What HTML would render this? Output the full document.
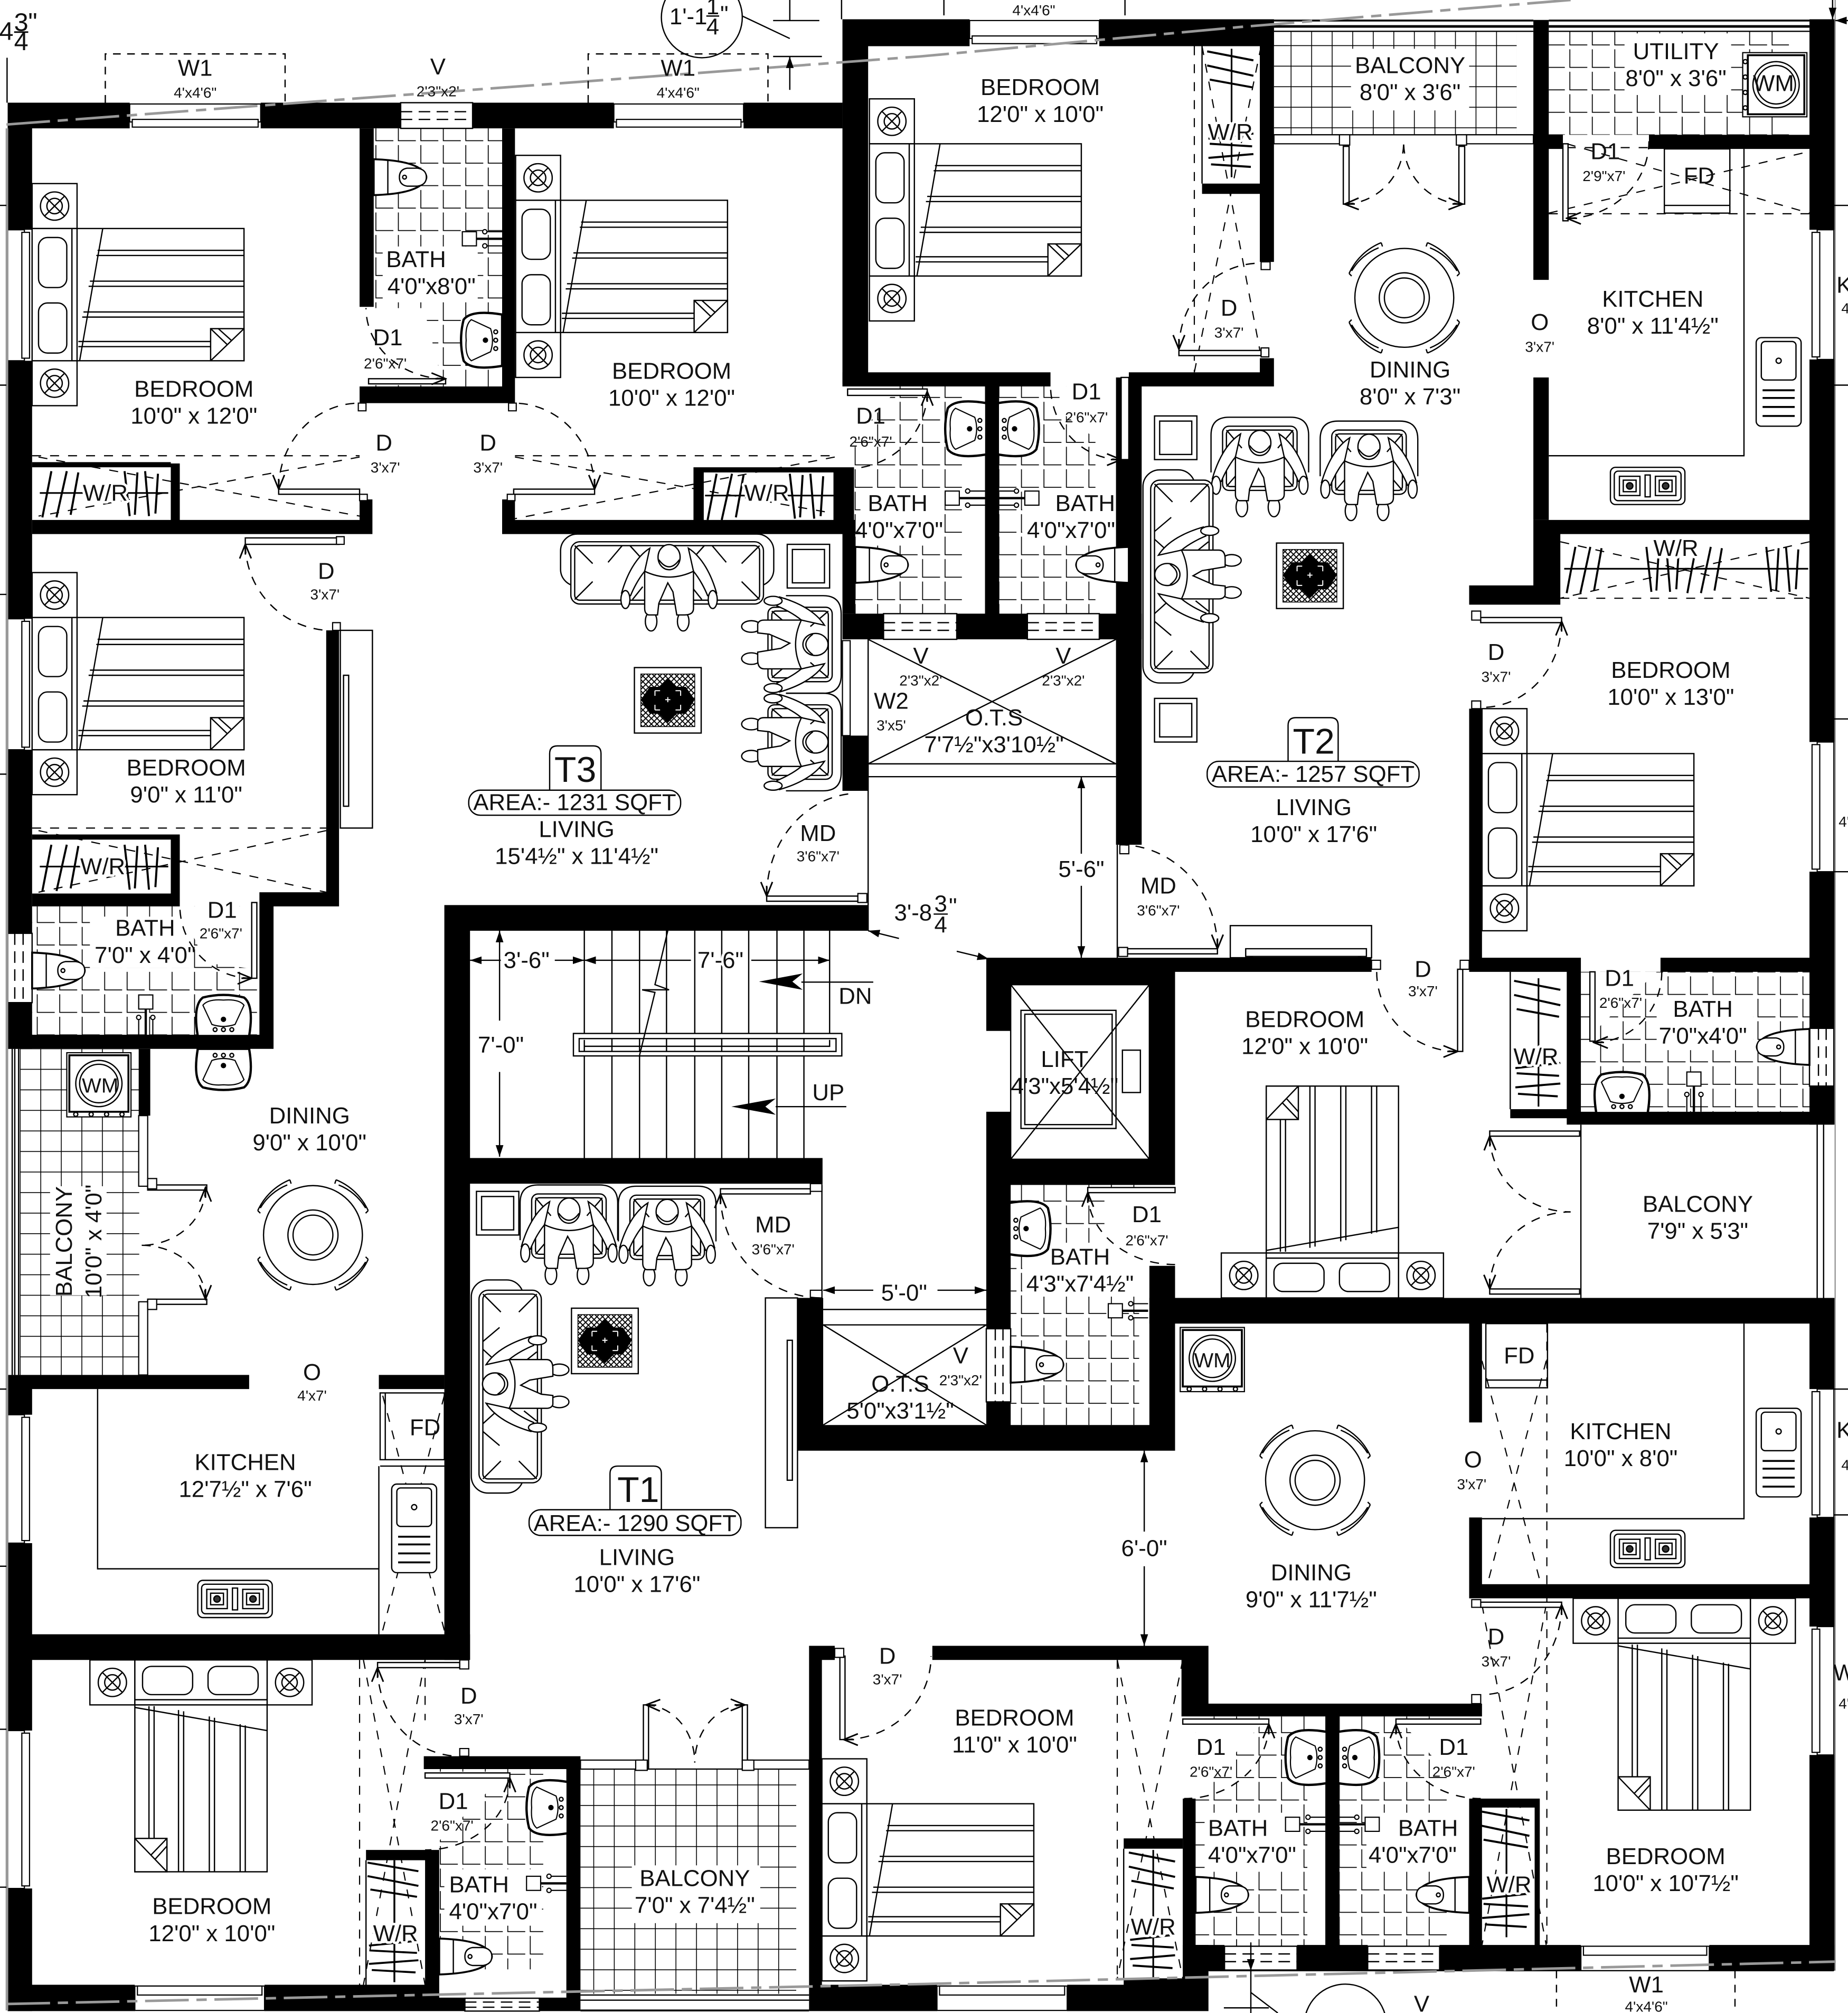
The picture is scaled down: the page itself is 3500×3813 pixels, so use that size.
<!DOCTYPE html>
<html><head><meta charset="utf-8"><title>Floor plan</title>
<style>
html,body{margin:0;padding:0;background:#fff}
svg{display:block}
text{font-family:"Liberation Sans",sans-serif;fill:#111;text-anchor:middle;stroke:none}
.l{font-size:18px}
.s{font-size:11.5px}
.h{paint-order:stroke;stroke:#fff;stroke-width:4px;stroke-linejoin:round}
.d{stroke-dasharray:7 7;fill:none}
.a{stroke-dasharray:7 6;fill:none;marker-start:url(#oa)}
.leaf{fill:#fff;stroke:#000;stroke-width:1}
.win{fill:#fff;stroke:#000;stroke-width:.9}
</style></head><body>
<svg xmlns="http://www.w3.org/2000/svg" width="3500" height="3813" viewBox="0 0 1439 1568" preserveAspectRatio="none">
<defs>
<marker id="oa" markerWidth="14" markerHeight="12" refX="1" refY="6" orient="auto" markerUnits="userSpaceOnUse"><path d="M12 1.500L1 6L12 10.500M1 6L9 6" fill="none" stroke="#000" stroke-width="1.200"/></marker>
<marker id="fa" markerWidth="10" markerHeight="8" refX="9" refY="4" orient="auto-start-reverse" markerUnits="userSpaceOnUse"><path d="M0 1L9 4L0 7Z" fill="#000"/></marker>
<pattern id="tile" width="17.5" height="17.5" patternUnits="userSpaceOnUse"><path d="M0.400 3V17.100H14" stroke="#000" stroke-width=".7" fill="none"/></pattern>
<pattern id="grid" width="16" height="16" patternUnits="userSpaceOnUse"><path d="M0 .3H16M.3 0V16" stroke="#000" stroke-width=".7" fill="none"/></pattern>
<pattern id="hatch" width="4.4" height="4.4" patternUnits="userSpaceOnUse"><path d="M0 0L4.4 4.4M4.4 0L0 4.4" stroke="#000" stroke-width=".8"/></pattern>
<g id="ns"><rect width="35" height="35" fill="#fff"/><circle cx="17.5" cy="17.5" r="11"/><circle cx="17.5" cy="17.5" r="6"/><path d="M10 10L25 25M25 10L10 25"/></g>
<g id="bed" stroke="#000" fill="none" stroke-width="1">
<use href="#ns"/><use href="#ns" y="138"/>
<rect y="35" width="165" height="103" fill="#fff"/>
<path d="M31 35V138M35 35V138"/>
<rect x="5" y="42" width="22" height="39" rx="7"/><rect x="5" y="93" width="22" height="39" rx="7"/>
<path d="M55 35L37 138M51 52H165M50 56H165M45 76H165M44 80H165M40 100H165M39 104H165M36 123H139M36 127H139"/>
<rect x="139" y="113" width="26" height="25" fill="#fff"/><path d="M139 138L165 113M139 113L152 125.500M145 113L155 122"/>
</g>
<g id="man" stroke="#000" fill="#fff" stroke-width="1">
<ellipse cx="-14" cy="50" rx="4.500" ry="7.500"/><ellipse cx="11" cy="50" rx="4.500" ry="7.500"/>
<path d="M-15 -7C-26 0 -33 14 -37 28L-30 30C-28 25 -24 17 -19 11Z"/><path d="M15 -7C26 0 33 14 37 28L30 30C28 25 24 17 19 11Z"/>
<ellipse cx="-34" cy="33" rx="3.500" ry="7"/><ellipse cx="34" cy="33" rx="3.500" ry="7"/>
<path d="M-19 11Q0 20 19 11L19 40Q19 45 12 45H6L3 27L-1 20L-8 36L-9 45H-16Q-19 44 -19 40Z"/>
<ellipse cx="0" cy="0" rx="8.600" ry="9.800"/><path d="M-8 2Q0 13 8 2" fill="none"/>
</g>
<g id="chair" stroke="#000" fill="none" stroke-width="1">
<path d="M-38 23V-6Q-38 -20 -24 -20H24Q38 -20 38 -6V23"/>
<rect x="-29" y="-13" width="58" height="50" rx="5"/><rect x="-26" y="-10" width="52" height="44" rx="3"/>
<path d="M-26 -10L-14 4M26 -10L14 4M-26 34L-14 20M26 34L14 20"/>
<use href="#man"/>
</g>
<g id="sofa" stroke="#000" fill="#fff" stroke-width="1">
<rect x="-83" y="-27" width="166" height="40.500" rx="13"/>
<rect x="-75" y="-21" width="150" height="48.500" rx="7"/>
<rect x="-72" y="-18" width="144" height="42.500" rx="4"/>
<path d="M-72 -18L-58 -4M72 -18L58 -4M-72 24L-58 10M72 24L58 10M-29 -18L-19 -7M29 -18L19 -7M-27 24L-19 14M27 24L19 14M-40 -18V-18M-46 -5L-35 -18M46 -5L35 -18"/>
</g>
<g id="sq" stroke="#000" fill="#fff" stroke-width="1"><rect width="33" height="34"/><rect x="4" y="4" width="25" height="26"/></g>
<g id="rug"><rect width="52" height="51" fill="#fff" stroke="#000"/><rect x="5" y="5" width="42" height="41" fill="url(#hatch)" stroke="#000" stroke-width=".6"/><path d="M26 8L33 15H40L47 25L40 36H33L26 43L19 36H12L5 25L12 15H19Z" fill="#000"/><path d="M16 18H20M16 18V22M36 18H32M36 18V22M16 33H20M16 33V29M36 33H32M36 33V29M24 25H28M26 23V27" stroke="#fff" fill="none" stroke-width=".8"/></g>
<g id="arc" fill="none" stroke="#000"><path d="M-43 -19A47 47 0 0 1 -18 -43M-41 -21A43 43 0 0 1 -20 -39"/><path d="M-43 -19L-41 -17M-18 -43L-17 -40"/></g>
<g id="din" stroke="#000" fill="#fff" stroke-width="1"><use href="#arc"/><use href="#arc" transform="scale(-1,1)"/><use href="#arc" transform="scale(1,-1)"/><use href="#arc" transform="scale(-1,-1)"/><circle r="38.5"/><circle r="19.5"/><circle r="15.5"/></g>
<g id="wc" stroke="#000" fill="#fff" stroke-width="1"><path d="M0 -14Q30 -13 38 -5Q44 0 38 5Q30 13 0 14Z" stroke-width="1.500"/><path d="M11 -13V13"/><path d="M26 -7H34Q41 -6 41 0Q41 6 34 7H26Q20 6 20 0Q20 -6 26 -7Z"/><circle cx="24" cy="0" r="1.500"/></g>
<g id="bas" stroke="#000" fill="#fff"><path d="M16 -20Q-8 -24 -14 -16Q-18 0 -14 16Q-8 24 16 20Z" stroke-width="1.800"/><path d="M7 -9L-8 -16Q-13 -12 -12 0Q-13 12 -8 16L7 9Q10 0 7 -9Z" stroke-width=".9"/><circle cx="3" cy="0" r="1.600" fill="#000"/><circle cx="11" cy="-6.500" r="1.500"/><circle cx="11" cy="0" r="1.500"/><circle cx="11" cy="6.500" r="1.500"/></g>
<g id="sink" stroke="#000" fill="#fff"><rect width="35" height="69" rx="4"/><rect x="4" y="3" width="27" height="30" rx="3"/><circle cx="17.5" cy="18" r="2" fill="none"/><path d="M5 41H30M5 47H30M5 54H30M5 61H30" stroke-width="1.500"/></g>
<g id="stove" stroke="#000" fill="#fff"><rect width="58" height="29" rx="4"/><rect x="3" y="3" width="52" height="23" rx="3"/><rect x="7" y="7" width="16" height="15"/><rect x="35" y="7" width="16" height="15"/><rect x="27" y="6" width="4" height="17"/><rect x="10" y="10" width="10" height="9"/><rect x="38" y="10" width="10" height="9"/><circle cx="15" cy="14.5" r="2.500" fill="#333"/><circle cx="43" cy="14.5" r="2.500" fill="#333"/></g>
<g id="wm" stroke="#000" fill="#fff"><rect width="50" height="50" stroke-width=".9"/><rect x="2" y="2" width="46" height="44" stroke-width="1.500"/><circle cx="25" cy="24" r="18"/><circle cx="25" cy="24" r="15"/><circle cx="7" cy="48" r="1.600"/><circle cx="19" cy="48" r="1.600"/><circle cx="31" cy="48" r="1.600"/><circle cx="43" cy="48" r="1.600"/></g>
<g id="wr" stroke="#000" fill="none" stroke-width="1.600"><path d="M0 19H100" stroke-width="1.300"/><path d="M2 38L9 2M13 38L21 2M24 36L30 3M66 2L70 37M74 36L76 3M82 2L85 37M90 35L92 4"/></g>
<g id="tap" stroke="#000" fill="#fff" stroke-width=".9"><rect x="0" y="-5.500" width="11" height="11"/><path d="M11 0H31" stroke-width="1.800"/><path d="M19 -5.500H31M19 5.500H31"/><circle cx="17.500" cy="-5.500" r="1.700"/><circle cx="17.500" cy="5.500" r="1.700"/></g>
</defs>
<rect width="1439" height="1568" fill="#fff"/>

<!-- tiles: each translated so the pattern lines up with the room -->
<g>
<rect transform="translate(309.800,110)" x="-18.800" y="-10" width="100" height="201" fill="url(#tile)"/>
<rect transform="translate(683,310)" x="-18" y="-9" width="84" height="177" fill="url(#tile)"/>
<rect transform="translate(795,310)" x="-17" y="-9" width="75" height="177" fill="url(#tile)"/>
<rect transform="translate(28.600,719)" x="-3.600" y="-13" width="177" height="100" fill="url(#tile)"/>
<rect transform="translate(1246,775)" x="-15" y="-18" width="178" height="109" fill="url(#tile)"/>
<rect transform="translate(795,936)" x="-8" y="-13" width="100" height="187" fill="url(#tile)"/>
<rect transform="translate(360,1400)" x="-18" y="-22" width="81" height="156" fill="url(#tile)"/>
<rect transform="translate(945,1350)" x="-14" y="-13" width="87" height="185" fill="url(#tile)"/>
<rect transform="translate(1060,1350)" x="-17" y="-13" width="84" height="185" fill="url(#tile)"/>
<rect transform="translate(1222,35.400)" x="-16" y="-10.900" width="187" height="80.500" fill="url(#tile)"/>
<rect transform="translate(1005,35.200)" x="-13" y="-10.700" width="189" height="80.500" fill="url(#grid)"/>
<rect transform="translate(15.400,832.600)" x="0" y="-15.600" width="93" height="254" fill="url(#grid)"/>
<rect transform="translate(462,1502)" x="-10" y="-124" width="168" height="175" fill="url(#grid)"/>
<!-- white door clearances and label pads -->
<path d="M281 240H330L345 300H281ZM660 301H700L660 350ZM825 301H870V355L825 320ZM140 706H200V755L160 750ZM1240 757H1290L1240 805ZM860 925H895V985H860ZM332 1380H395L335 1441ZM931 1340H985L931 1400ZM1090 1340H1144V1400Z" fill="#fff"/>
<g fill="#fff">
<rect x="1052" y="38" width="92" height="48"/><rect x="1265" y="26" width="83" height="48"/>
<rect x="492" y="1453" width="100" height="45"/><rect x="39" y="924" width="44" height="85"/>
<rect x="298" y="192" width="74" height="42"/><rect x="670" y="380" width="65" height="45"/><rect x="796" y="380" width="79" height="45"/>
<rect x="70" y="714" width="81" height="40"/><rect x="1290" y="776" width="75" height="42"/><rect x="796" y="968" width="92" height="42"/>
<rect x="346" y="1456" width="76" height="44"/><rect x="938" y="1412" width="74" height="44"/><rect x="1064" y="1412" width="74" height="44"/>
</g>
</g>

<!-- thin lines -->
<g stroke="#000" fill="none" stroke-width="1">
<path d="M676 498V725M870 658V746"/>
<path d="M676 498L869 595M869 498L676 595M676 595H869M676 605H869"/>
<path d="M641 1020H768M641 1032H768M641 1032L768 1110M768 1032L641 1110"/>
<path d="M640 923V1011"/>
<!-- balcony edges -->
<path d="M992 105H1194"/><path d="M992 16H1194M1206 16H1409" stroke-width="1.500"/><path d="M992 20.600H1194M1206 20.600H1409" stroke-width="2"/><path d="M992 24.400H1194M1206 24.400H1409"/>
<path d="M9.500 817V1071M11.500 817V1071M14.500 817V1071"/>
<path d="M452 1378H630M452 1554H630M452 1558H630" /><path d="M452 1566H630" stroke-width="1.500"/>
<!-- kitchen counters -->
<path d="M1358 116V355H1206M76 1082V1222H295M295 1142V1273M1358 1031V1183H1154M1231 876V1011M1415 876V1011M1420 876V1011"/>
<!-- lift -->
<path d="M787 767H895V903H787ZM787 767L895 903M895 767L787 903"/>
<rect x="795" y="787" width="74" height="92"/><rect x="798" y="790" width="68" height="86"/><rect x="874" y="818" width="14" height="33"/>
<!-- stairs -->
<path d="M455 725V805M476.500 725V805M498 725V805M519 725V805M541 725V805M562 725V805M583 725V805M605 725V805M626 725V805M646 725V805"/>
<path d="M455 822V902M476.500 822V902M498 822V902M519 822V902M541 822V902M562 822V902M583 822V902M605 822V902M626 822V902"/>
<rect x="446.500" y="805" width="209" height="17.500" fill="#fff"/><rect x="451" y="809" width="200" height="10"/>
<path d="M455 810V819M646 810V815H455M476.500 809V819M498 809V819M519 809V819M541 809V819M562 809V819M583 809V819M605 809V819M626 809V819"/>
<path d="M520 725L510 767L521 771H500L510 773L498 822"/>
<!-- dims -->
<path d="M389 725V795M389 835V901" marker-start="url(#fa)" marker-end="url(#fa)"/>
<path d="M366 748H390" marker-start="url(#fa)"/>
<path d="M432 748H455" marker-end="url(#fa)"/><path d="M480 748H455" marker-end="url(#fa)"/>
<path d="M480 748H538M585 748H646" marker-end="url(#fa)"/>
<path d="M842 605V665M842 690V746" marker-start="url(#fa)" marker-end="url(#fa)"/>
<path d="M676 725L700 731M745 741L770 747" marker-start="url(#fa)" marker-end="url(#fa)"/>
<path d="M891 1130V1193M891 1220V1282" marker-start="url(#fa)" marker-end="url(#fa)"/>
<path d="M641 1005H680M730 1005H768" marker-start="url(#fa)" marker-end="url(#fa)"/>
<path d="M624 765H680M604 862H659"/>
<!-- TV units -->
<rect x="265" y="491" width="25" height="154"/><rect x="267.500" y="526" width="4" height="102"/>
<rect x="596" y="1011" width="25" height="179"/><rect x="613" y="1044" width="4" height="109"/>
<rect x="958" y="721" width="110" height="25"/><path d="M970 739H1064V745H970ZM973 745L978 747M1060 745L1055 747"/>
<!-- FD boxes -->
<rect x="1296" y="116" width="51" height="50"/><path d="M1296 160H1347"/>
<rect x="296" y="1085" width="50" height="52"/><path d="M300 1085V1137M296 1142H346"/>
<rect x="1157" y="1031" width="48" height="50"/><path d="M1157 1075H1205"/>
<!-- WR outlines -->
<path d="M1176 757V864M875 1440V1541M285 1449V1546M936 36V143"/>
<path d="M941 1535H1428"/>
</g>

<!-- closet dashed swings -->
<g stroke="#000" stroke-width=".9" class="d" fill="none">
<path d="M25 355H280M30 356L280 402M280 356L30 402"/>
<path d="M401 355H650M401 356L650 400M650 356L401 404"/>
<path d="M25 645H254M30 647L254 695M254 647L30 695"/>
<path d="M930 36V290M936 36L982 278M982 36L930 290"/>
<path d="M1206 166.500H1409M1206 115H1284M1206 166L1409 118M1220 112L1409 166"/>
<path d="M1215 422L1409 466M1409 422L1215 466M1215 466H1409"/>
<path d="M280 1293V1546M331 1293V1340M283 1293L331 1546M331 1293L283 1546"/>
<path d="M298 1270L346 1087M346 1270L298 1087"/>
<path d="M870 1293V1541M870 1293L921 1541M921 1293L870 1541"/>
<path d="M1204.500 1031V1515M1154 1250L1204 1515M1204 1250L1154 1515M1154 1060L1204 1250M1204 1060L1154 1250"/>
</g>

<!-- walls -->
<g fill="#000">
<path d="M6 80H101V100H6ZM203 80H312V100H203ZM368 80H478V100H368ZM579 80H656V100H579Z"/>
<path d="M656 15H755V36H656ZM856 15H992V36H856ZM656 15H676V299H656Z"/>
<path d="M6 80H25V179H6ZM6 281H25V482H6ZM6 584H25V727H6ZM6 781H25V817H6Z"/>
<path d="M280 100H291V239H280ZM391 100H401V314H391ZM280 301H401V314H280Z"/>
<path d="M25 405H290V416H25ZM133 361H140V405H133ZM280 389H290V405H280ZM25 360H133V364H25Z"/>
<path d="M391 405H656V416H391ZM391 389H401V405H391ZM540 364H548V405H540ZM540 364H656V368H540ZM649 364H665V405H649ZM656 405H666V478H656Z"/>
<path d="M254 491H264V705H254ZM202 695H264V706H202ZM202 695H213V817H202ZM6 806H213V817H6Z"/>
<path d="M133 650H140V705H133ZM25 696H140V706H25ZM25 650H133V654H25Z"/>
<path d="M656 573H676V616H656ZM656 478H688V498H656ZM745 478H800V498H745ZM856 478H889V498H856ZM767 301H778V478H767Z"/>
<path d="M656 290H818V301H656ZM879 290H992V301H879ZM981 279H992V301H981ZM981 15H992V204H981ZM936 143H992V151H936ZM869 294H889V658H869Z"/>
<path d="M346 705H676V725H346ZM346 705H366V1293H346ZM366 902H640.500V922H366Z"/>
<path d="M768 746H915V767H768ZM768 746H787V803H768ZM768 866H787V1035H768ZM895 746H915V923H895ZM768 903H915V923H768ZM895 986H915V1130H895ZM768 1092H787V1130H768ZM622 1110H915V1130H622ZM621 1011H641V1130H621Z"/>
<path d="M108 817H117V869H108Z"/>
<path d="M6 1071H194V1082H6ZM295 1071H346V1082H295ZM6 1071H25V1102H6ZM6 1202H25V1348H6ZM6 1471H25V1566.500H6ZM6 1273H366V1293H6Z"/>
<path d="M6 1546H105V1566.500H6ZM206 1546H342V1566.500H206ZM342 1556H362V1566.500H342ZM420 1556H452V1566.500H420ZM441 1368H452V1566.500H441ZM330 1368H452V1378H330ZM331 1441H342V1556H331ZM285 1441H342V1449H285Z"/>
<path d="M630 1282H640V1566.500H630ZM630 1546H729.600V1566.500H630ZM831 1546H941V1566.500H831ZM630 1282H650V1293H630ZM726 1282H941V1293H726ZM920 1282H941V1337H920ZM920 1327H1154V1337H920ZM1032 1337H1043V1516H1032ZM921 1401H931V1541H921ZM921 1515H941V1566.500H921ZM875 1541H941V1547H875Z"/>
<path d="M921 1515H953.500V1535H921ZM1010 1515H1065V1535H1010ZM1121 1515H1231V1535H1121ZM1331 1515H1428.500V1535H1331ZM875 1432H921V1440H875Z"/>
<path d="M1144 1401H1154V1516H1144ZM1144 1401H1199V1408H1144ZM1195 1401H1199V1516H1195Z"/>
<path d="M1144 1234H1428V1245H1144ZM1144 1182H1154V1245H1144ZM1144 1031H1154V1108H1144ZM895 1011H1428V1031H895Z"/>
<path d="M1409 15H1428.500V179H1409ZM1409 280H1428.500V578H1409ZM1409 679H1428.500V801H1409ZM1409 846H1428.500V876H1409ZM1409 1011H1428.500V1082H1409ZM1409 1182H1428.500V1267H1409ZM1409 1367H1428.500V1535H1409Z"/>
<path d="M1194 15.500H1206V218H1194ZM1194 294H1206V405H1194ZM1206 105H1217V116H1206ZM1284 105H1410V116H1284Z"/>
<path d="M1194 405H1410V416H1194ZM1194 405H1215V466H1194ZM1144 456H1215V471H1144ZM1144 552H1154V757H1144ZM1144 746H1231V757H1144ZM1293 746H1410V757H1293ZM1220 757H1231V876H1220ZM1220 866H1428V876H1220ZM1176 864H1220V871H1176ZM915 746H1068V757H915Z"/>
</g>

<!-- windows -->
<g class="win">
<rect x="101" y="81" width="102" height="14"/><rect x="103" y="93" width="98" height="6"/>
<rect x="478" y="81" width="101" height="14"/><rect x="480" y="93" width="97" height="6"/>
<rect x="755" y="16" width="101" height="14"/><rect x="757" y="28" width="97" height="6"/>
<rect x="105" y="1547" width="101" height="19"/><rect x="107" y="1547" width="97" height="7"/>
<rect x="729.600" y="1547" width="101.400" height="19"/><rect x="731.600" y="1547" width="97.400" height="7"/>
<rect x="1231" y="1516" width="100" height="19"/><rect x="1233" y="1516" width="96" height="7"/>
<rect x="6" y="179" width="13" height="102"/><rect x="17" y="181" width="6" height="98"/>
<rect x="6" y="482" width="13" height="102"/><rect x="17" y="484" width="6" height="98"/>
<rect x="6" y="1102" width="13" height="100"/><rect x="17" y="1104" width="6" height="96"/>
<rect x="6" y="1348" width="13" height="123"/><rect x="17" y="1350" width="6" height="119"/>
<rect x="1415" y="179" width="13" height="101"/><rect x="1411" y="181" width="6" height="97"/>
<rect x="1415" y="578" width="13" height="101"/><rect x="1411" y="580" width="6" height="97"/>
<rect x="1415" y="1082" width="13" height="100"/><rect x="1411" y="1084" width="6" height="96"/>
<rect x="1415" y="1267" width="13" height="100"/><rect x="1411" y="1269" width="6" height="96"/>
<rect x="992" y="105" width="54" height="7"/><rect x="1141" y="105" width="53" height="7"/>
<rect x="452" y="1371" width="49" height="7"/><rect x="582" y="1371" width="48" height="7"/>
<rect x="108" y="869" width="7" height="55"/><rect x="108" y="1014" width="7" height="57"/>
<rect x="656" y="499" width="6" height="74"/>
</g>
<g stroke="#000" fill="#fff" stroke-width="1">
<rect x="312" y="80" width="56" height="20"/><path d="M312 87H368M312 93H368" stroke-dasharray="9 5" fill="none"/>
<rect x="688" y="478" width="57" height="20"/><path d="M688 485H745M688 491H745" stroke-dasharray="9 5" fill="none"/>
<rect x="800" y="478" width="56" height="20"/><path d="M800 485H856M800 491H856" stroke-dasharray="9 5" fill="none"/>
<rect x="362" y="1556.500" width="58" height="10"/><path d="M362 1559.500H420M362 1563.500H420" stroke-dasharray="9 5" fill="none"/>
<rect x="953.500" y="1516" width="56.500" height="18.500"/><path d="M953.500 1522H1010M953.500 1528H1010" stroke-dasharray="9 5" fill="none"/>
<rect x="1065" y="1516" width="56" height="18.500"/><path d="M1065 1522H1121M1065 1528H1121" stroke-dasharray="9 5" fill="none"/>
<rect x="6" y="727" width="19" height="54"/><path d="M11.500 727V781M18 727V781" stroke-dasharray="9 5" fill="none"/>
<rect x="1409" y="801" width="19" height="45"/><path d="M1416 801V846M1422 801V846" stroke-dasharray="9 5" fill="none"/>
<rect x="768" y="1035" width="19" height="57"/><path d="M775 1035V1092M781 1035V1092" stroke-dasharray="9 5" fill="none"/>
</g>

<!-- door leaves -->
<g class="leaf">
<rect x="217" y="381" width="63" height="4"/><rect x="400" y="381" width="63" height="4"/>
<rect x="191" y="419" width="73" height="5"/><rect x="597" y="698" width="71" height="4"/>
<rect x="918" y="273" width="64" height="4"/><rect x="1046" y="114" width="4.500" height="45"/><rect x="1136" y="114" width="4.500" height="45"/>
<rect x="1217" y="112" width="4" height="60"/><rect x="873" y="294" width="6" height="64"/><rect x="660" y="303" width="62" height="5"/>
<rect x="1153" y="481" width="63" height="4"/><rect x="1135" y="755" width="4" height="64"/><rect x="878" y="739" width="70" height="4"/>
<rect x="1238" y="757" width="4" height="54"/><rect x="1160" y="881" width="70" height="4"/><rect x="1160" y="1004" width="70" height="4"/>
<rect x="847" y="925" width="68" height="4"/><rect x="1153" y="1248" width="63" height="4"/><rect x="921" y="1339" width="67" height="4"/>
<rect x="1087" y="1339" width="66" height="4"/><rect x="654" y="1290" width="4" height="65"/><rect x="501" y="1328" width="4" height="50"/>
<rect x="578" y="1328" width="4" height="50"/><rect x="294" y="1295" width="64" height="4"/><rect x="331" y="1381" width="66" height="4"/>
<rect x="561" y="926" width="70" height="4"/><rect x="115" y="923" width="46" height="4"/><rect x="115" y="1012" width="46" height="4"/>
<rect x="196" y="703" width="4" height="59"/><rect x="287" y="295" width="60" height="4"/>
</g>
<!-- jambs -->
<path d="M279 314h6v6h-6zM396 314h6v6h-6zM280 385h6v5h-6zM395 385h6v5h-6zM259 485h6v6h-6zM262 418h6v6h-6zM668 696h7v7h-7zM982 271h6v7h-6zM982 204h7v6h-7zM1068 748h7v7h-7zM1137 748h7v7h-7zM1146 476h7v7h-7zM1146 546h7v6h-7zM872 658h7v7h-7zM871 738h7v7h-7zM631 1011h9v-6h-9zM631 928h9v-6h-9zM650 1284h7v7h-7zM358 1293h7v7h-7zM358 1362h7v6h-7zM1146 1246h7v6h-7zM1146 1320h7v7h-7zM1043 105h8v8h-8zM1134 105h8v8h-8zM495 1371h9v8h-9zM578 1371h9v8h-9zM115 918h7v8h-7zM115 1012h7v8h-7z" fill="#fff" stroke="#000" stroke-width=".9"/>
<!-- door swings -->
<g stroke="#000" stroke-width="1" fill="none">
<path class="a" d="M217 381A63 67 0 0 1 280 314"/>
<path class="a" d="M463 381A63 67 0 0 0 400 314"/>
<path class="a" d="M191 424A68 68 0 0 0 254 491"/>
<path class="a" d="M597 698A72 80 0 0 1 665 618"/>
<path class="a" d="M918 272A63 67 0 0 1 981 205"/>
<path class="a" d="M1047 159A47 48 0 0 0 1093 112"/>
<path class="a" d="M1139 159A47 48 0 0 1 1093 112"/>
<path class="a" d="M1220 170A64 60 0 0 0 1284 110"/>
<path class="a" d="M873 358A55 58 0 0 1 818 300"/>
<path class="a" d="M722 305A62 60 0 0 1 660 365"/>
<path class="a" d="M1216 484A62 67 0 0 1 1154 551"/>
<path class="a" d="M1135 819A63 62 0 0 1 1072 757"/>
<path class="a" d="M948 739A76 81 0 0 0 872 658"/>
<path class="a" d="M1241 812A53 55 0 0 0 1294 757"/>
<path class="a" d="M1160 885A63 60 0 0 0 1223 944"/>
<path class="a" d="M1160 1004A63 60 0 0 1 1223 944"/>
<path class="a" d="M847 929A68 56 0 0 0 915 985"/>
<path class="a" d="M1216 1250A62 70 0 0 1 1154 1320"/>
<path class="a" d="M988 1343A66 58 0 0 1 922 1401"/>
<path class="a" d="M1087 1343A66 58 0 0 0 1153 1401"/>
<path class="a" d="M657 1355A68 65 0 0 0 725 1290"/>
<path class="a" d="M503 1328A39 45 0 0 1 541 1373"/>
<path class="a" d="M580 1328A39 45 0 0 0 541 1373"/>
<path class="a" d="M294 1299A64 69 0 0 0 358 1368"/>
<path class="a" d="M397 1385A66 56 0 0 1 331 1441"/>
<path class="a" d="M561 930A79 81 0 0 0 640 1011"/>
<path class="a" d="M160 925A50 45 0 0 1 110 970"/>
<path class="a" d="M160 1012A50 42 0 0 0 110 970"/>
<path class="a" d="M196 762A56 57 0 0 1 140 705"/>
<path class="a" d="M347 295A62 55 0 0 1 285 240"/>
</g>

<!-- arrows -->
<path d="M591 764.600L625 758.300L617 764.600L625 771Z M569.500 862L604 855.700L596 862L604 868.300Z" fill="#000"/>

<!-- WR -->
<use href="#wr" transform="translate(31,365)"/>
<use href="#wr" transform="translate(549,367)"/>
<use href="#wr" transform="translate(31,656)"/>
<use href="#wr" transform="translate(1218,424) scale(.97,1)"/>
<use href="#wr" transform="translate(1312,424) scale(.96,1)"/>
<use href="#wr" transform="translate(978,38) rotate(90) scale(1,1)"/>
<use href="#wr" transform="translate(1217,762) rotate(90)"/>
<use href="#wr" transform="translate(328,1449) rotate(90) scale(.95,1.1)"/>
<use href="#wr" transform="translate(917,1441) rotate(90)"/>
<use href="#wr" transform="translate(1193,1409) rotate(90) scale(1,1.05)"/>

<!-- beds -->
<use href="#bed" transform="translate(25,143)"/>
<use href="#bed" transform="translate(401.500,121)"/>
<use href="#bed" transform="translate(25,446)"/>
<use href="#bed" transform="translate(677,77)"/>
<use href="#bed" transform="translate(1154,552)"/>
<use href="#bed" transform="translate(640,1370)"/>
<use href="#bed" transform="translate(243,1293) rotate(90)"/>
<use href="#bed" transform="translate(1398,1245) rotate(90)"/>
<use href="#bed" transform="translate(1124,1011) matrix(0,-1,-1,0,0,0)"/>

<!-- toilets -->
<use href="#wc" transform="translate(291,138)"/>
<use href="#wc" transform="translate(666,440)"/>
<use href="#wc" transform="translate(879,440) scale(-1,1)"/>
<use href="#wc" transform="translate(25,756)"/>
<use href="#wc" transform="translate(1409,815.500) scale(-1,1)"/>
<use href="#wc" transform="translate(787,1063)"/>
<use href="#wc" transform="translate(342,1524)"/>
<use href="#wc" transform="translate(931,1476)"/>
<use href="#wc" transform="translate(1144,1476) scale(-1,1)"/>
<!-- basins -->
<use href="#bas" transform="translate(375,265)"/>
<use href="#bas" transform="translate(752,334)"/>
<use href="#bas" transform="translate(793,334) scale(-1,1)"/>
<use href="#bas" transform="translate(426,1408)"/>
<use href="#bas" transform="translate(174,791) rotate(90)"/>
<use href="#bas" transform="translate(174,833) rotate(-90)"/>
<use href="#bas" transform="translate(802,957) scale(-1,1)"/>
<use href="#bas" transform="translate(1263,851) rotate(90)"/>
<use href="#bas" transform="translate(1017,1369)"/>
<use href="#bas" transform="translate(1058,1369) scale(-1,1)"/>
<!-- taps -->
<use href="#tap" transform="translate(360,186)"/>
<use href="#tap" transform="translate(736,388)"/>
<use href="#tap" transform="translate(809,388) scale(-1,1)"/>
<use href="#tap" transform="translate(113.500,775) rotate(90)"/>
<use href="#tap" transform="translate(1319,835) rotate(90)"/>
<use href="#tap" transform="translate(863,1021)"/>
<use href="#tap" transform="translate(410,1467)"/>
<use href="#tap" transform="translate(1001,1421)"/>
<use href="#tap" transform="translate(1074,1421) scale(-1,1)"/>

<!-- kitchen -->
<use href="#sink" x="1367.500" y="263"/><use href="#sink" x="1367.500" y="1097"/><use href="#sink" x="305" y="1156"/>
<use href="#stove" x="1254" y="364"/><use href="#stove" x="1254" y="1192"/><use href="#stove" x="154" y="1231"/>
<use href="#wm" transform="translate(1407,41) rotate(90)"/><use href="#wm" x="52" y="820"/><use href="#wm" x="919" y="1034"/>

<!-- living -->
<use href="#sq" x="613" y="424"/><use href="#sq" x="899" y="324"/><use href="#sq" x="899" y="544"/><use href="#sq" x="371" y="928"/>
<use href="#rug" x="494" y="520"/><use href="#rug" x="994" y="423"/><use href="#rug" x="445" y="1019"/>
<use href="#din" x="1093.500" y="232"/><use href="#din" x="243.700" y="962"/><use href="#din" x="1024" y="1153"/>
<use href="#sofa" transform="translate(519.500,443)"/>
<use href="#man" transform="translate(521,434)"/>
<use href="#chair" transform="translate(635,502) rotate(90)"/>
<use href="#chair" transform="translate(635,578) rotate(90)"/>
<use href="#chair" transform="translate(981,345)"/>
<use href="#chair" transform="translate(1066,348)"/>
<use href="#sofa" transform="translate(917,449) rotate(-90)"/>
<use href="#man" transform="translate(909,447.500) rotate(-90)"/>
<use href="#chair" transform="translate(443,943)"/>
<use href="#chair" transform="translate(519.500,944)"/>
<use href="#sofa" transform="translate(394,1080) rotate(-90)"/>
<use href="#man" transform="translate(385.500,1078) rotate(-90)"/>

<!-- T boxes -->
<g stroke="#000" fill="#fff" stroke-width="1">
<path d="M428 615V587Q428 581 434 581H462Q468 581 468 587V615"/><rect x="365" y="615.500" width="165" height="19.500" rx="9"/>
<path d="M1003 593V565Q1003 559 1009 559H1036Q1042 559 1042 565V593"/><rect x="940" y="593" width="165" height="20" rx="9"/>
<path d="M475 1176V1148Q475 1142 481 1142H509Q515 1142 515 1148V1176"/><rect x="412" y="1176" width="165" height="20" rx="9"/>
</g>

<!-- outer annotation -->
<path d="M5.400 100V1566" stroke="#999" stroke-width="2"/>
<path d="M1429 0V1535" stroke="#999" stroke-width="1"/>
<path d="M5 97L716 44L966 21L1223 0" stroke="#999" stroke-width="2" stroke-dasharray="34 6 8 6" fill="none"/>
<path d="M5 1561L720 1545.400L1428.500 1528" stroke="#999" stroke-width="2" stroke-dasharray="34 6 8 6" fill="none"/>
<g stroke="#000" fill="none" stroke-width="1">
<path d="M82 80V42H222V80M458 80V42H598V80" stroke-dasharray="6 5"/>
<circle cx="546.500" cy="13.500" r="31.500"/>
<path d="M578 12.500L615 30M602 16H638M602 44H640M735 0V12M876 0V12"/>
<path d="M615 0V16M655.300 0V15M5.500 45V80M1427 0V15" marker-end="url(#fa)"/>
<path d="M615 70V44" marker-end="url(#fa)"/>
<path d="M1439 16H1429" marker-end="url(#fa)"/>
<path d="M1212 1535V1568M1351 1535V1568" stroke-dasharray="6 5"/>
<circle cx="1047.600" cy="1577.500" r="32"/>
<path d="M974 1513V1535" marker-end="url(#fa)"/><path d="M974 1535V1568M974 1552L995 1568M953 1564H988"/>
<path d="M0 160H5M0 300H5M0 463H5M0 603H5M0 1082H5M0 1220H5M0 1347H5M0 1470H5M1428 160H1439M1428 300H1439M1428 560H1439M1428 679H1439M1428 1082H1439M1428 1180H1439"/>
</g>

<!-- text -->
<g>
<text x="10.500" y="31" font-size="20" style="text-anchor:end">-4</text><text x="16.500" y="24" font-size="20">3</text><text x="16.500" y="39" font-size="20">4</text><path d="M11 25H22" stroke="#000" stroke-width="1.200"/><text x="25.500" y="24" font-size="20">"</text>
<text x="536" y="19" font-size="18">1'-1</text><text x="555" y="11" font-size="18">1</text><text x="555" y="27" font-size="18">4</text><path d="M550 12.500H560" stroke="#000"/><text x="564" y="17" font-size="18">"</text>

<text class="l" x="152" y="59">W1</text><text class="s" x="152" y="76">4'x4'6"</text>
<text class="l" x="341" y="58">V</text><text class="s" x="341" y="75">2'3"x2'</text>
<text class="l" x="528" y="59">W1</text><text class="s" x="528" y="76">4'x4'6"</text>
<text class="s" x="805" y="12">4'x4'6"</text>

<text class="l" x="151" y="309">BEDROOM</text><text class="l" x="151" y="330">10'0" x 12'0"</text>
<text class="l" x="324" y="208">BATH</text><text class="l" x="336" y="229">4'0"x8'0"</text>
<text class="l" x="302" y="269">D1</text><text class="s" x="300" y="287">2'6"x7'</text>
<text class="l" x="523" y="295">BEDROOM</text><text class="l" x="523" y="316">10'0" x 12'0"</text>
<text class="l" x="299" y="351">D</text><text class="s" x="300" y="368">3'x7'</text>
<text class="l" x="380" y="351">D</text><text class="s" x="380" y="368">3'x7'</text>
<text class="l" x="254" y="451">D</text><text class="s" x="253" y="467">3'x7'</text>
<text class="l h" x="82" y="390">W/R</text><text class="l h" x="597" y="390">W/R</text><text class="l h" x="80" y="681">W/R</text>
<text class="l" x="145" y="604">BEDROOM</text><text class="l" x="145" y="625">9'0" x 11'0"</text>
<text x="448" y="609" font-size="28">T3</text><text class="l" x="447.500" y="631">AREA:- 1231 SQFT</text>
<text class="l" x="449" y="652">LIVING</text><text class="l" x="449" y="673">15'4½" x 11'4½"</text>
<text class="l" x="637" y="655">MD</text><text class="s" x="637" y="671">3'6"x7'</text>
<text class="l" x="694" y="552">W2</text><text class="s" x="694" y="569">3'x5'</text>
<text class="l" x="717" y="517">V</text><text class="s" x="717" y="534">2'3"x2'</text>
<text class="l" x="828" y="517">V</text><text class="s" x="828" y="534">2'3"x2'</text>
<text class="l" x="774" y="565">O.T.S</text><text class="l" x="774" y="586">7'7½"x3'10½"</text>
<text class="l" x="699" y="398">BATH</text><text class="l" x="700" y="419">4'0"x7'0"</text>
<text class="l" x="678" y="330">D1</text><text class="s" x="678" y="348">2'6"x7'</text>
<text class="l" x="845" y="398">BATH</text><text class="l" x="834" y="419">4'0"x7'0"</text>
<text class="l" x="846" y="311">D1</text><text class="s" x="846" y="329">2'6"x7'</text>
<text class="l" x="810" y="74">BEDROOM</text><text class="l" x="810" y="95">12'0" x 10'0"</text>
<text class="l h" x="958" y="109">W/R</text>
<text class="l" x="957" y="246">D</text><text class="s" x="957" y="263">3'x7'</text>
<text class="l" x="1098" y="57">BALCONY</text><text class="l" x="1098" y="78">8'0" x 3'6"</text>
<text class="l" x="1305" y="46">UTILITY</text><text class="l" x="1305" y="67">8'0" x 3'6"</text>
<text class="l" x="1381" y="71" font-size="16">WM</text>
<text class="l" x="1250" y="124">D1</text><text class="s" x="1249" y="141">2'9"x7'</text><text class="l" x="1323" y="143">FD</text>
<text class="l" x="1287" y="239">KITCHEN</text><text class="l" x="1287" y="260">8'0" x 11'4½"</text>
<text class="l" x="1199" y="257">O</text><text class="s" x="1199" y="274">3'x7'</text>
<text class="l" x="1098" y="294">DINING</text><text class="l" x="1098" y="315">8'0" x 7'3"</text>
<text class="l h" x="1305" y="433">W/R</text>
<text class="l" x="1165" y="514">D</text><text class="s" x="1165" y="531">3'x7'</text>
<text class="l" x="1301" y="528">BEDROOM</text><text class="l" x="1301" y="549">10'0" x 13'0"</text>
<text x="1023" y="587" font-size="28">T2</text><text class="l" x="1022.500" y="609">AREA:- 1257 SQFT</text>
<text class="l" x="1023" y="635">LIVING</text><text class="l" x="1023" y="656">10'0" x 17'6"</text>
<text class="l" x="902" y="696">MD</text><text class="s" x="902" y="713">3'6"x7'</text>
<text class="l h" x="842" y="683">5'-6"</text>
<text class="l h" x="711" y="717">3'-8</text><text x="732.500" y="710" font-size="18">3</text><text x="732.500" y="726.500" font-size="18">4</text><path d="M727 712H738" stroke="#000"/><text class="l" x="742" y="712">"</text>
<text class="l h" x="410" y="754">3'-6"</text><text class="l h" x="561" y="754">7'-6"</text><text class="l h" x="390" y="820">7'-0"</text>
<text class="l" x="666" y="782">DN</text><text class="l" x="645" y="857">UP</text>
<text class="l" x="1108" y="761">D</text><text class="s" x="1108" y="776">3'x7'</text>
<text class="l" x="1016" y="800">BEDROOM</text><text class="l" x="1016" y="821">12'0" x 10'0"</text>
<text class="l" x="1261" y="768">D1</text><text class="s" x="1262" y="785">2'6"x7'</text>
<text class="l" x="1326" y="792">BATH</text><text class="l" x="1326" y="813">7'0"x4'0"</text>
<text class="l h" x="1196" y="829">W/R</text>
<text class="l" x="829" y="831">LIFT</text><text class="l" x="829" y="852">4'3"x5'4½"</text>
<text class="l" x="113" y="729">BATH</text><text class="l" x="113" y="750">7'0" x 4'0"</text>
<text class="l" x="173" y="715">D1</text><text class="s" x="172" y="731">2'6"x7'</text>
<text class="l" x="241" y="875">DINING</text><text class="l" x="241" y="896">9'0" x 10'0"</text>
<text class="l" transform="translate(56,967) rotate(-90)">BALCONY</text><text class="l" transform="translate(79,967) rotate(-90)">10'0" x 4'0"</text>
<text x="78" y="851" font-size="16">WM</text>
<text class="l" x="243" y="1075">O</text><text class="s" x="243" y="1091">4'x7'</text>
<text class="l" x="602" y="960">MD</text><text class="s" x="602" y="977">3'6"x7'</text>
<text class="l h" x="704" y="1013">5'-0"</text>
<text class="l" x="1322" y="944">BALCONY</text><text class="l" x="1322" y="965">7'9" x 5'3"</text>
<text class="l" x="841" y="985">BATH</text><text class="l" x="841" y="1006">4'3"x7'4½"</text>
<text class="l" x="893" y="952">D1</text><text class="s" x="893" y="970">2'6"x7'</text>
<text class="l" x="748" y="1062">V</text><text class="s" x="748" y="1079">2'3"x2'</text>
<text class="l" x="701" y="1084">O.T.S</text><text class="l" x="701" y="1105">5'0"x3'1½"</text>
<text class="l" x="331" y="1118">FD</text>
<text class="l" x="191" y="1145">KITCHEN</text><text class="l" x="191" y="1166">12'7½" x 7'6"</text>
<text x="497" y="1170" font-size="28">T1</text><text class="l" x="494.500" y="1192.500">AREA:- 1290 SQFT</text>
<text class="l" x="496" y="1219">LIVING</text><text class="l" x="496" y="1240">10'0" x 17'6"</text>
<text x="944" y="1065" font-size="16">WM</text>
<text class="l" x="1183" y="1062">FD</text>
<text class="l" x="1262" y="1121">KITCHEN</text><text class="l" x="1262" y="1142">10'0" x 8'0"</text>
<text class="l" x="1147" y="1143">O</text><text class="s" x="1146" y="1160">3'x7'</text>
<text class="l" x="1021" y="1231">DINING</text><text class="l" x="1021" y="1252">9'0" x 11'7½"</text>
<text class="l h" x="891" y="1212">6'-0"</text>
<text class="l" x="365" y="1327">D</text><text class="s" x="365" y="1343">3'x7'</text>
<text class="l" x="691" y="1296">D</text><text class="s" x="691" y="1312">3'x7'</text>
<text class="l" x="1165" y="1281">D</text><text class="s" x="1165" y="1298">3'x7'</text>
<text class="l" x="790" y="1344">BEDROOM</text><text class="l" x="790" y="1365">11'0" x 10'0"</text>
<text class="l" x="943" y="1367">D1</text><text class="s" x="943" y="1384">2'6"x7'</text>
<text class="l" x="1132" y="1367">D1</text><text class="s" x="1132" y="1384">2'6"x7'</text>
<text class="l" x="964" y="1430">BATH</text><text class="l" x="975" y="1451">4'0"x7'0"</text>
<text class="l" x="1112" y="1430">BATH</text><text class="l" x="1100" y="1451">4'0"x7'0"</text>
<text class="l h" x="1175" y="1474">W/R</text><text class="l h" x="898" y="1507">W/R</text><text class="l h" x="308" y="1512">W/R</text>
<text class="l" x="1297" y="1452">BEDROOM</text><text class="l" x="1297" y="1473">10'0" x 10'7½"</text>
<text class="l" x="165" y="1491">BEDROOM</text><text class="l" x="165" y="1512">12'0" x 10'0"</text>
<text class="l" x="353" y="1409">D1</text><text class="s" x="352" y="1426">2'6"x7'</text>
<text class="l" x="373" y="1474">BATH</text><text class="l" x="384" y="1495">4'0"x7'0"</text>
<text class="l" x="541" y="1469">BALCONY</text><text class="l" x="541" y="1490">7'0" x 7'4½"</text>
<text class="l" x="1282" y="1552">W1</text><text class="s" x="1282" y="1567">4'x4'6"</text>
<text class="l" x="1107" y="1567">V</text>
<text class="l" x="1436" y="228">K</text><text class="s" x="1437" y="244">4</text>
<text class="s" x="1436" y="644">4'</text><text class="l" x="1436" y="1120">K</text><text class="s" x="1437" y="1145">4</text><text class="l" x="1436" y="1309">W</text><text class="s" x="1436" y="1331">4'</text>
</g>
</svg>
</body></html>
